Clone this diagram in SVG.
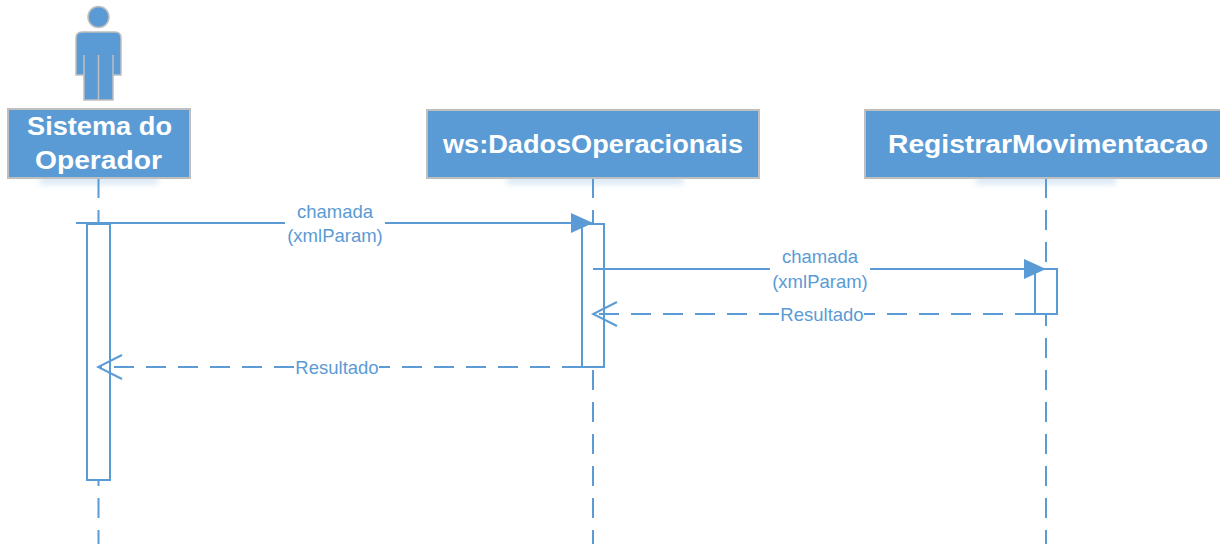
<svg xmlns="http://www.w3.org/2000/svg" width="1220" height="544" viewBox="0 0 1220 544">
<style>
.box{fill:#5b9bd5;stroke:#bfbfbf;stroke-width:2}
.hdr{font-family:"Liberation Sans",Arial,sans-serif;font-weight:bold;font-size:26px;fill:#ffffff;text-anchor:middle}
.lbl{font-family:"Liberation Sans",Arial,sans-serif;font-size:18.5px;fill:#5b9bd5;text-anchor:middle}
.life{stroke:#5b9bd5;stroke-width:2;stroke-dasharray:20 12;fill:none}
.act{fill:#ffffff;stroke:#5b9bd5;stroke-width:2}
.msg{stroke:#5b9bd5;stroke-width:2;fill:none}
.ret{stroke:#5b9bd5;stroke-width:2;fill:none;stroke-dasharray:20 12}
.shadow{fill:#5b9bd5;opacity:0.25;filter:url(#blur)}
</style>
<defs>
<filter id="blur" x="-20%" y="-100%" width="140%" height="300%"><feGaussianBlur stdDeviation="3"/></filter>
<marker id="filled" viewBox="0 0 22 20" refX="22" refY="10" markerWidth="22" markerHeight="20" markerUnits="userSpaceOnUse" orient="auto"><path d="M0,0 L22,10 L0,20 Z" fill="#5b9bd5"/></marker>
<marker id="open" viewBox="0 0 28 28" refX="26" refY="14" markerWidth="28" markerHeight="28" markerUnits="userSpaceOnUse" orient="auto"><path d="M2,2 L26,14 L2,26" fill="none" stroke="#5b9bd5" stroke-width="2"/></marker>
</defs>
<rect width="1220" height="544" fill="#ffffff"/>

<g id="lifelines">
<line class="life" x1="98.5" y1="178" x2="98.5" y2="544"/>
<line class="life" x1="593" y1="178" x2="593" y2="544"/>
<line class="life" x1="1046" y1="178" x2="1046" y2="544"/>
</g>

<g id="actor-sistema">
<circle cx="98.5" cy="17" r="10.5" fill="#5b9bd5" stroke="#bfbfbf" stroke-width="1.5"/>
<path d="M82,32 H115 Q121,32 121,38 V75 H113 V100 H84 V75 H76 V38 Q76,32 82,32 Z" fill="#5b9bd5" stroke="#bfbfbf" stroke-width="1.5"/>
<path d="M84,55 V75 M113,55 V75 M98.5,55 V100" stroke="#bfbfbf" stroke-width="1.5" fill="none"/>
<rect class="shadow" x="40" y="176" width="118" height="8"/>
<rect class="box" x="8" y="109" width="182" height="69"/>
<text class="hdr" x="99.5" y="135" textLength="145" lengthAdjust="spacingAndGlyphs">Sistema do</text>
<text class="hdr" x="98.5" y="169" textLength="127" lengthAdjust="spacingAndGlyphs">Operador</text>
</g>

<g id="ws-dados">
<rect class="shadow" x="507" y="176" width="176" height="8"/>
<rect class="box" x="427" y="110" width="332" height="68"/>
<text class="hdr" x="593" y="153" textLength="300" lengthAdjust="spacingAndGlyphs">ws:DadosOperacionais</text>
</g>

<g id="registrar">
<rect class="shadow" x="976" y="176" width="140" height="8"/>
<rect class="box" x="865" y="110" width="364" height="68"/>
<text class="hdr" x="1048" y="153" textLength="320" lengthAdjust="spacingAndGlyphs">RegistrarMovimentacao</text>
</g>

<g id="activations">
<rect class="act" x="87" y="224" width="23" height="256"/>
<rect class="act" x="582" y="224" width="22" height="143"/>
<rect class="act" x="1035" y="269" width="22" height="45"/>
</g>

<g id="connectors">
<path class="msg" d="M76,223 H285 M385,223 H593" marker-end="url(#filled)"/>
<text class="lbl" x="335" y="218">chamada</text>
<text class="lbl" x="335" y="242">(xmlParam)</text>

<path class="msg" d="M593,269 H770 M870,269 H1046" marker-end="url(#filled)"/>
<text class="lbl" x="820" y="263">chamada</text>
<text class="lbl" x="820" y="288">(xmlParam)</text>

<line class="ret" x1="1035" y1="314" x2="593" y2="314" marker-end="url(#open)"/>
<rect x="776" y="304" width="90" height="20" fill="#ffffff"/>
<line class="msg" x1="771" y1="314" x2="779" y2="314"/>
<line class="msg" x1="864" y1="314" x2="872" y2="314"/>
<text class="lbl" x="822" y="321">Resultado</text>

<line class="ret" x1="582" y1="367" x2="98" y2="367" marker-end="url(#open)"/>
<rect x="290" y="357" width="92" height="20" fill="#ffffff"/>
<line class="msg" x1="286" y1="367" x2="294" y2="367"/>
<line class="msg" x1="379" y1="367" x2="387" y2="367"/>
<text class="lbl" x="337" y="374">Resultado</text>
</g>
</svg>
